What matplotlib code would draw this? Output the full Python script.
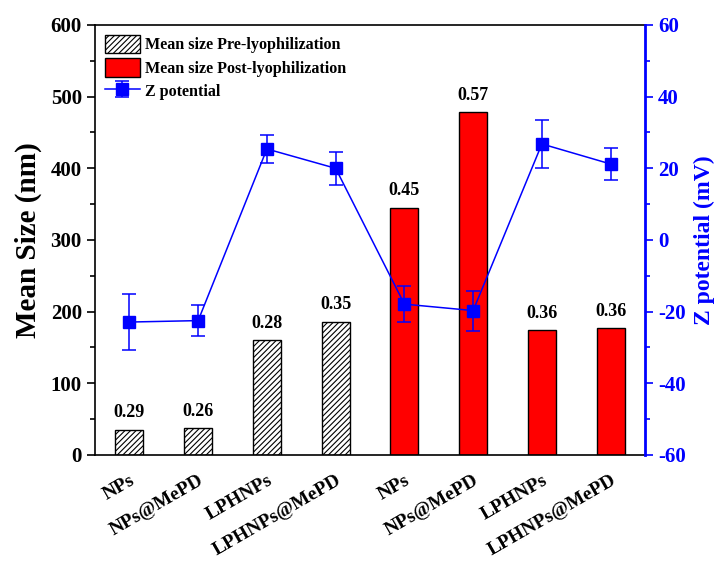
import matplotlib
matplotlib.use("Agg")
import matplotlib.pyplot as plt
from matplotlib.ticker import MultipleLocator
import numpy as np

plt.rcParams['font.family'] = ['Liberation Serif', 'DejaVu Serif']
plt.rcParams['font.weight'] = 'bold'
plt.rcParams['hatch.linewidth'] = 0.8
plt.rcParams['axes.unicode_minus'] = False

categories = ["NPs", "NPs@MePD", "LPHNPs", "LPHNPs@MePD",
              "NPs", "NPs@MePD", "LPHNPs", "LPHNPs@MePD"]
pre_size = [35, 37, 160, 186]
post_size = [345, 478, 174, 177]
pdi_labels = ["0.29", "0.26", "0.28", "0.35", "0.45", "0.57", "0.36", "0.36"]
zeta = [-22.9, -22.5, 25.4, 20.0, -17.9, -19.7, 26.8, 21.2]
zeta_err = [7.8, 4.4, 3.8, 4.6, 5.0, 5.6, 6.7, 4.4]

fig = plt.figure(figsize=(7.21, 5.65), dpi=100)
ax = fig.add_axes([0.1318, 0.1947, 0.7628, 0.7611])

x = np.arange(len(categories))
xpre = x[:4]
xpost = x[4:]
w = 0.41
b1 = ax.bar(xpre, pre_size, width=w, color='white', edgecolor='black',
            hatch='//////', linewidth=1.0, label='Mean size Pre-lyophilization')
b2 = ax.bar(xpost, post_size, width=w, color='#ff0000', edgecolor='black',
            linewidth=1.0, label='Mean size Post-lyophilization')

sizes = pre_size + post_size
for xi, s, lab in zip(x, sizes, pdi_labels):
    ax.text(xi, s + 12, lab, ha='center', va='bottom', fontsize=13, fontweight='bold')

ax.set_xlim(-0.5, 7.5)
ax.set_ylim(0, 600)
ax.yaxis.set_major_locator(MultipleLocator(100))
ax.yaxis.set_minor_locator(MultipleLocator(50))
ax.tick_params(axis='y', which='major', direction='out', length=6, width=1.2, labelsize=15)
ax.tick_params(axis='y', which='minor', direction='out', length=3.5, width=1.2)
ax.set_xticks(x)
ax.set_xticklabels(categories, rotation=30, ha='right', rotation_mode='anchor', fontsize=14)
ax.tick_params(axis='x', length=0, pad=12)
ax.set_ylabel("Mean Size (nm)", fontsize=21, fontweight='bold', labelpad=6)
for sp in ['left', 'bottom', 'top']:
    ax.spines[sp].set_linewidth(1.2)
ax.spines['right'].set_visible(False)

ax2 = ax.twinx()
ax2.set_ylim(-60, 60)
ln = ax2.errorbar(x, zeta, yerr=zeta_err, color='#0000ff', marker='s', markersize=9,
                  linewidth=1.1, capsize=5, elinewidth=1.1, capthick=1.1,
                  label='Z potential')
ax2.yaxis.set_major_locator(MultipleLocator(20))
ax2.yaxis.set_minor_locator(MultipleLocator(10))
ax2.tick_params(axis='y', which='major', direction='out', length=6, width=1.2,
                labelsize=15, colors='#0000ff')
ax2.tick_params(axis='y', which='minor', direction='out', length=3.5, width=1.2,
                colors='#0000ff')
ax2.spines['right'].set_color('#0000ff')
ax2.spines['right'].set_linewidth(2)
for sp in ['left', 'bottom', 'top']:
    ax2.spines[sp].set_visible(False)
ax2.set_ylabel("Z potential (mV)", fontsize=17, fontweight='bold', color='#0000ff', labelpad=6)

handles = [b1, b2, ln]
labels = [h.get_label() for h in handles]
ax.legend(handles, labels, loc='upper left', frameon=False, fontsize=11.6,
          handlelength=2.2, handleheight=1.4, borderaxespad=0.4,
          labelspacing=0.3, handletextpad=0.3, borderpad=0.2)

fig.savefig("out.png", dpi=100)
